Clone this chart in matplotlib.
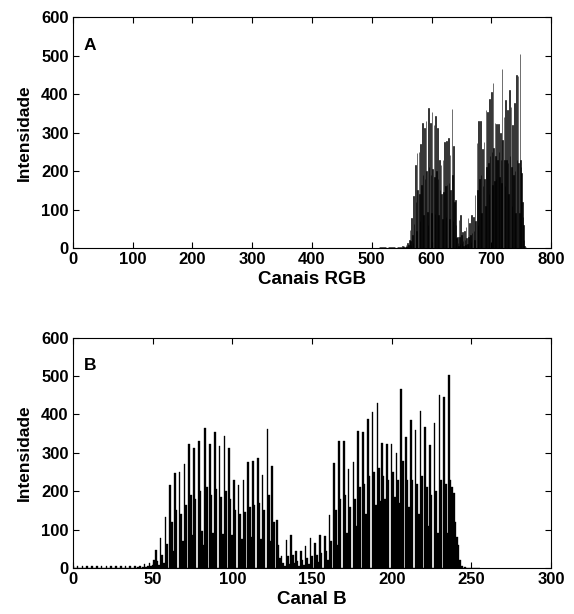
import numpy as np
import matplotlib
matplotlib.use("Agg")
import matplotlib.pyplot as plt

plt.rcParams['font.family'] = ['Liberation Sans', 'DejaVu Sans']
plt.rcParams['font.weight'] = 'bold'

# histograma do canal B (0-255)
canal_b = [
    4, 0, 1, 4, 0, 1, 4, 0, 1, 4,
    0, 1, 4, 0, 1, 4, 0, 1, 4, 0,
    1, 4, 0, 1, 4, 0, 1, 4, 0, 1,
    4, 0, 1, 4, 0, 1, 4, 0, 1, 5,
    0, 2, 6, 1,
    3, 9, 2, 5, 14, 4, 8, 22,
    47, 18, 8,
    78, 35, 14,
    134, 62, 0,
    217, 120, 45,
    248, 150, 0,
    249, 140, 70,
    271, 165, 0,
    324, 190, 85,
    313, 180, 0,
    331, 200, 95, 60,
    365, 210, 0,
    324, 190, 90,
    353, 205, 0,
    319, 185, 88,
    343, 200, 0,
    312, 180, 85,
    230, 150, 0,
    217, 140, 75,
    230, 145, 0,
    275, 160, 80,
    279, 165, 0,
    287, 170, 75,
    241, 150, 0,
    362, 190, 70,
    265, 120, 0,
    125, 60, 25,
    30, 12, 5,
    73, 30, 10,
    86, 35, 12,
    43, 18, 6,
    44, 20, 8,
    56, 25, 10,
    77, 30, 0,
    65, 35, 15,
    86, 40, 0,
    82, 45, 20,
    138, 70, 0,
    273, 150, 60,
    330, 180, 0,
    330, 190, 90,
    258, 160, 0,
    275, 180, 110,
    358, 210, 0,
    353, 220, 140,
    388, 240, 0,
    406, 250, 165,
    430, 260, 175,
    326, 240, 180,
    323, 230, 0,
    323, 250, 185,
    300, 230, 170,
    466, 280, 0,
    341, 230, 160,
    386, 230, 0,
    360, 220, 140,
    410, 240, 0,
    367, 210, 110,
    321, 190, 0,
    378, 200, 90,
    450, 230, 0,
    446, 220, 90,
    504, 230, 210,
    195, 120, 80,
    60, 20,
    5, 0, 2, 0, 0, 0, 0, 0, 0, 0, 0, 0,
]
# canais R e G vazios
canal_r = [0] * 256
canal_g = [0] * 256
canais_rgb = canal_r + canal_g + canal_b

xticks_a = [0, 100, 200, 300, 400, 500, 600, 700, 800]
xticks_b = [0, 50, 100, 150, 200, 250, 300]
yticks = [0, 100, 200, 300, 400, 500, 600]


def estilo(ax, xlim, xt, xlabel, letra):
    ax.set_xlim(xlim)
    ax.set_ylim(0, 600)
    ax.set_xticks(xt)
    ax.set_yticks(yticks)
    ax.tick_params(direction='in', top=True, right=True, length=4,
                   labelsize=12, width=0.8, pad=3)
    for lab in ax.get_xticklabels() + ax.get_yticklabels():
        lab.set_fontweight('bold')
    ax.set_xlabel(xlabel, fontsize=13.5, fontweight='bold', labelpad=3)
    ax.set_ylabel('Intensidade', fontsize=12.5, fontweight='bold', labelpad=7)
    ax.text(0.022, 0.91, letra, transform=ax.transAxes, fontsize=12.5,
            fontweight='bold', va='top')
    for s in ax.spines.values():
        s.set_linewidth(0.8)


fig = plt.figure(figsize=(5.74, 6.14), dpi=100)
ax1 = fig.add_axes([0.127, 0.596, 0.833, 0.376])
ax2 = fig.add_axes([0.127, 0.075, 0.833, 0.375])

ax1.bar(np.arange(len(canais_rgb)), canais_rgb, width=1.0, color='black',
        edgecolor='black', linewidth=0.4)
estilo(ax1, (0, 800), xticks_a, 'Canais RGB', 'A')

ax2.bar(np.arange(len(canal_b)), canal_b, width=1.0, color='black',
        edgecolor='black', linewidth=0.25)
estilo(ax2, (0, 300), xticks_b, 'Canal B', 'B')

fig.savefig('out.png', dpi=100)
